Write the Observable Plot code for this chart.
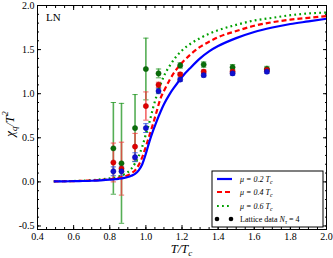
<!DOCTYPE html>
<html>
<head>
<meta charset="utf-8">
<script src="https://cdn.jsdelivr.net/npm/d3@7"></script>
<script src="https://cdn.jsdelivr.net/npm/@observablehq/plot@0.6"></script>
<style>
  html, body { margin: 0; padding: 0; background: #fff; }
  #chart { width: 333px; height: 258px; }
</style>
</head>
<body>
<div id="chart"></div>
<script>
// ---- curve data (T/Tc vs chi_q/T^2) ----
const curveT = [0.49,0.55,0.6,0.65,0.7,0.75,0.8,0.85,0.88,0.9,0.92,0.94,0.96,0.98,1.0,1.02,1.04,1.06,1.08,1.1,1.13,1.16,1.2,1.25,1.3,1.35,1.4,1.5,1.6,1.7,1.8,1.9,2.0];
const curveMu02 = [0.005,0.006,0.008,0.01,0.013,0.018,0.025,0.035,0.045,0.055,0.07,0.09,0.13,0.2,0.32,0.46,0.58,0.69,0.79,0.88,0.99,1.08,1.19,1.3,1.40,1.48,1.54,1.63,1.70,1.75,1.79,1.82,1.85];
const curveMu04 = [0.005,0.007,0.009,0.012,0.016,0.022,0.03,0.045,0.06,0.075,0.1,0.13,0.19,0.28,0.4,0.53,0.66,0.8,0.94,1.03,1.15,1.25,1.35,1.45,1.53,1.59,1.64,1.71,1.77,1.81,1.84,1.86,1.88];
const curveMu06 = [0.006,0.008,0.01,0.014,0.02,0.028,0.04,0.06,0.085,0.11,0.15,0.21,0.29,0.4,0.54,0.68,0.84,0.98,1.1,1.2,1.31,1.4,1.49,1.57,1.63,1.68,1.72,1.78,1.83,1.86,1.89,1.91,1.92];

// ---- lattice data N_tau = 4 ----
const latT = [0.82,0.865,0.94,1.0,1.07,1.19,1.32,1.48,1.67];
const latMu02 = [0.12,0.12,0.28,0.61,1.03,1.16,1.21,1.23,1.25];
const latErr02 = [0.05,0.05,0.05,0.05,0.03,0.02,0.02,0.02,0.02];
const latMu04 = [0.22,0.15,0.40,0.86,1.10,1.22,1.25,1.25,1.27];
const latErr04 = [0.22,0.30,0.15,0.16,0.03,0.02,0.02,0.02,0.02];
const latMu06 = [0.38,0.21,0.61,1.28,1.23,1.32,1.33,1.30,1.28];
const latErr06 = [0.52,0.68,0.38,0.35,0.05,0.03,0.03,0.03,0.03];

// ---- ticks ----
const xMajor = [0.4,0.6,0.8,1.0,1.2,1.4,1.6,1.8,2.0];
const xMinor = d3.range(0.4, 2.0001, 0.05);
const yMajor = [-0.5,0.0,0.5,1.0,1.5,2.0];
const yMinor = d3.range(-0.5, 2.0001, 0.1);

const seriesNames = ["μ = 0.2", "μ = 0.4", "μ = 0.6"];
const lineColors = ["#0000ff", "#ff0000", "#00a000"];
const dotColors = ["#1010d0", "#e00000", "#0a6e0a"];
const barColors = ["#3050e0", "#f04040", "#2a9a2a"];

const curves = [curveMu02, curveMu04, curveMu06].map(v => curveT.map((t, i) => ({t, v: v[i]})));
const lattice = [[latMu02, latErr02], [latMu04, latErr04], [latMu06, latErr06]]
  .map(([v, e]) => latT.map((t, i) => ({t, v: v[i], lo: v[i] - e[i], hi: v[i] + e[i]})));

const capSymbol = { draw(ctx, size) { const w = Math.sqrt(size) / 2; ctx.moveTo(-w, 0); ctx.lineTo(w, 0); } };

const font = "Liberation Serif, DejaVu Serif, serif";
const fmt = d => d.toFixed(1);
const dashes = [null, "5,3", "1.8,3.2"];

const marks = [];
// error bars (green, red, blue)
[2, 1, 0].forEach(k => {
  marks.push(Plot.ruleX(lattice[k], {x: "t", y1: "lo", y2: "hi", stroke: barColors[k], strokeWidth: 1.6, strokeOpacity: 0.8}));
  marks.push(Plot.dot(lattice[k], {x: "t", y: "lo", symbol: capSymbol, r: 3, stroke: barColors[k], strokeWidth: 1, strokeOpacity: 0.8}));
  marks.push(Plot.dot(lattice[k], {x: "t", y: "hi", symbol: capSymbol, r: 3, stroke: barColors[k], strokeWidth: 1, strokeOpacity: 0.8}));
});
// curves
for (const k of [2, 1, 0]) {
  marks.push(Plot.line(curves[k], {x: "t", y: "v", stroke: lineColors[k], strokeWidth: 2.2, strokeDasharray: dashes[k], strokeLinecap: "butt", curve: "monotone-x"}));
}
// points
[2, 1, 0].forEach(k => {
  marks.push(Plot.dot(lattice[k], {x: "t", y: "v", r: 2.6, fill: dotColors[k], stroke: d3.color(dotColors[k]).darker(0.6).formatHex(), strokeWidth: 0.5}));
});
// axes
marks.push(Plot.frame({stroke: "#000", strokeWidth: 1}));
marks.push(Plot.axisX(xMajor, {anchor: "bottom", tickSize: 0, tickPadding: 3, tickFormat: fmt, label: null, fontSize: 10}));
marks.push(Plot.axisY(yMajor, {anchor: "left", tickSize: 0, tickPadding: 3, tickFormat: fmt, label: null, fontSize: 10}));
for (const anchor of ["bottom", "top"]) {
  marks.push(Plot.axisX(xMajor, {anchor, tickSize: -4, fill: "none", label: null}));
  marks.push(Plot.axisX(xMinor, {anchor, tickSize: -2, fill: "none", label: null}));
}
for (const anchor of ["left", "right"]) {
  marks.push(Plot.axisY(yMajor, {anchor, tickSize: -4, fill: "none", label: null}));
  marks.push(Plot.axisY(yMinor, {anchor, tickSize: -2, fill: "none", label: null}));
}

const plot = Plot.plot({
  width: 333,
  height: 258,
  marginLeft: 37,
  marginRight: 7,
  marginTop: 5,
  marginBottom: 29,
  style: {fontFamily: font, fontSize: "10px", background: "#fff", color: "#000"},
  x: {domain: [0.4, 2.0]},
  y: {domain: [-0.54, 2.0]},
  marks
});
document.getElementById("chart").appendChild(plot);

// ---- annotations, labels, legend ----
const svg = d3.select(plot);
const sx = plot.scale("x"), sy = plot.scale("y");
const L = sx.apply(0.4), R = sx.apply(2.0), T = sy.apply(2.0), B = sy.apply(-0.54);
const g = svg.append("g").attr("font-family", font).attr("fill", "#000").attr("text-anchor", "start");

g.append("text").attr("x", L + 9).attr("y", T + 16).attr("font-size", 11).text("LN");

// x label
const xl = g.append("text").attr("x", (L + R) / 2).attr("y", 253).attr("text-anchor", "middle").attr("font-size", 12.5).attr("font-style", "italic");
xl.append("tspan").text("T/T");
xl.append("tspan").attr("font-size", 9).attr("dy", 3).text("c");

// y label
const yl = g.append("text").attr("transform", `translate(14,${(T + B) / 2 + 7}) rotate(-90)`).attr("text-anchor", "middle").attr("font-size", 13).attr("font-style", "italic");
yl.append("tspan").text("χ");
yl.append("tspan").attr("font-size", 9).attr("dy", 3).text("q");
yl.append("tspan").attr("dy", -3).text("/T");
yl.append("tspan").attr("font-size", 9).attr("dy", -6).text("2");

// legend
const lg = g.append("g");
const bx = R - 114, by = B - 58, bw = 111, bh = 56;
lg.append("rect").attr("x", bx).attr("y", by).attr("width", bw).attr("height", bh).attr("fill", "#fff").attr("stroke", "#000").attr("stroke-width", 1);
const rowY = [by + 8, by + 21, by + 35, by + 48];
for (let k = 0; k < 3; k++) {
  lg.append("line").attr("x1", bx + 5).attr("x2", bx + 20).attr("y1", rowY[k]).attr("y2", rowY[k])
    .attr("stroke", lineColors[k]).attr("stroke-width", 2.2).attr("stroke-dasharray", dashes[k]);
  const t = lg.append("text").attr("x", bx + 28).attr("y", rowY[k] + 3).attr("font-size", 8).attr("font-style", "italic");
  t.append("tspan").text(seriesNames[k] + " T");
  t.append("tspan").attr("font-size", 6).attr("dy", 2).text("c");
}
lg.append("circle").attr("cx", bx + 5).attr("cy", rowY[3]).attr("r", 2.3).attr("fill", "#000");
lg.append("circle").attr("cx", bx + 19).attr("cy", rowY[3]).attr("r", 2.3).attr("fill", "#000");
const lt = lg.append("text").attr("x", bx + 28).attr("y", rowY[3] + 3).attr("font-size", 8);
lt.append("tspan").text("Lattice data ");
lt.append("tspan").attr("font-style", "italic").text("N");
lt.append("tspan").attr("font-size", 6).attr("font-style", "italic").attr("dy", 2).text("τ");
lt.append("tspan").attr("dy", -2).text(" = 4");
</script>
</body>
</html>
